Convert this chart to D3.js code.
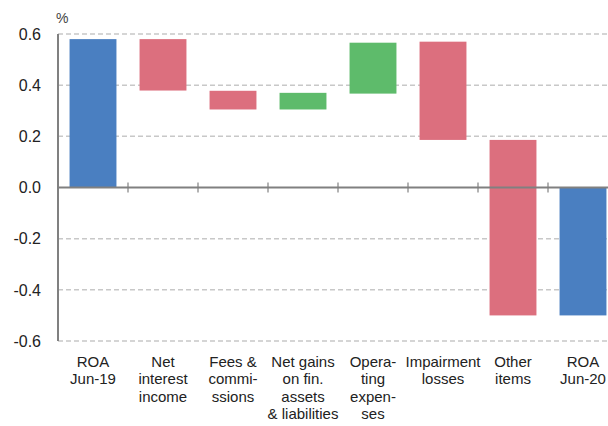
<!DOCTYPE html>
<html>
<head>
<meta charset="utf-8">
<script src="https://cdn.jsdelivr.net/npm/d3@7"></script>
<style>
  html, body { margin: 0; padding: 0; background: #fff; }
  svg { display: block; }
  text { font-family: "Liberation Sans", Arial, Helvetica, sans-serif; fill: #222; }
</style>
</head>
<body>
<svg id="chart" width="608" height="426"></svg>
<script>
const categories = ["ROA Jun-19", "Net interest income", "Fees & commissions", "Net gains on fin. assets & liabilities", "Operating expenses", "Impairment losses", "Other items", "ROA Jun-20"];
const labelLines = [
  ["ROA", "Jun-19"],
  ["Net", "interest", "income"],
  ["Fees &", "commi-", "ssions"],
  ["Net gains", "on fin.", "assets", "& liabilities"],
  ["Opera-", "ting", "expen-", "ses"],
  ["Impairment", "losses"],
  ["Other", "items"],
  ["ROA", "Jun-20"]
];
const startValues = [0, 0.58, 0.378, 0.305, 0.367, 0.570, 0.186, 0];
const endValues   = [0.58, 0.379, 0.305, 0.37, 0.566, 0.186, -0.50, -0.50];
const barTypes    = ["total", "down", "down", "up", "up", "down", "down", "total"];
const yTicks = [-0.6, -0.4, -0.2, 0.0, 0.2, 0.4, 0.6];
const colors = { total: "#4a7fc1", down: "#dc6f7e", up: "#5ebb6b" };

const svg = d3.select("#chart");
const mLeft = 58, mTop = 34, mBottom = 341, mRight = 618;

const x = d3.scaleBand().domain(categories).range([mLeft, mRight]).paddingInner(0.33).paddingOuter(0.165);
const y = d3.scaleLinear().domain([-0.6, 0.6]).range([mBottom, mTop]);

// gridlines
svg.append("g").selectAll("line").data(yTicks.filter(d => d !== 0)).join("line")
  .attr("x1", mLeft).attr("x2", 608)
  .attr("y1", d => y(d)).attr("y2", d => y(d))
  .attr("stroke", "#c8c8c8").attr("stroke-width", 1.5).attr("stroke-dasharray", "5,3");

// bars
svg.append("g").selectAll("rect").data(categories).join("rect")
  .attr("x", d => x(d))
  .attr("width", x.bandwidth())
  .attr("y", (d, i) => y(Math.max(startValues[i], endValues[i])))
  .attr("height", (d, i) => Math.abs(y(startValues[i]) - y(endValues[i])))
  .attr("fill", (d, i) => colors[barTypes[i]]);

// zero axis
const fmt = d3.formatLocale({decimal: ".", thousands: ",", grouping: [3], currency: ["", ""], minus: "-"}).format(".1f");
svg.append("line").attr("x1", mLeft).attr("x2", 608).attr("y1", y(0)).attr("y2", y(0))
  .attr("stroke", "#808080").attr("stroke-width", 2);
const boundaries = categories.slice(1).map(c => x(c) - x.step() * x.paddingInner() / 2);
svg.append("g").selectAll("line").data(boundaries).join("line")
  .attr("x1", d => d).attr("x2", d => d)
  .attr("y1", y(0) - 5).attr("y2", y(0) + 5)
  .attr("stroke", "#808080").attr("stroke-width", 1.2);

// left axis
svg.append("line").attr("x1", mLeft).attr("x2", mLeft).attr("y1", mTop).attr("y2", mBottom)
  .attr("stroke", "#808080").attr("stroke-width", 2);

// y tick labels
svg.append("g").selectAll("text").data(yTicks).join("text")
  .attr("x", 41).attr("y", d => y(d))
  .attr("dy", "0.36em")
  .attr("text-anchor", "end")
  .style("font-size", "16px")
  .text(d => fmt(d));

svg.append("text").attr("x", 56).attr("y", 23).style("font-size", "14px").style("fill", "#444").text("%");

// category labels
const lab = svg.append("g").selectAll("text").data(categories).join("text")
  .attr("x", d => x(d) + x.bandwidth() / 2)
  .attr("y", 367)
  .attr("text-anchor", "middle")
  .style("font-size", "15px");
lab.each(function(d, i) {
  d3.select(this).selectAll("tspan").data(labelLines[i]).join("tspan")
    .attr("x", x(d) + x.bandwidth() / 2)
    .attr("dy", (t, j) => j === 0 ? 0 : 17.3)
    .text(t => t);
});
</script>
</body>
</html>
